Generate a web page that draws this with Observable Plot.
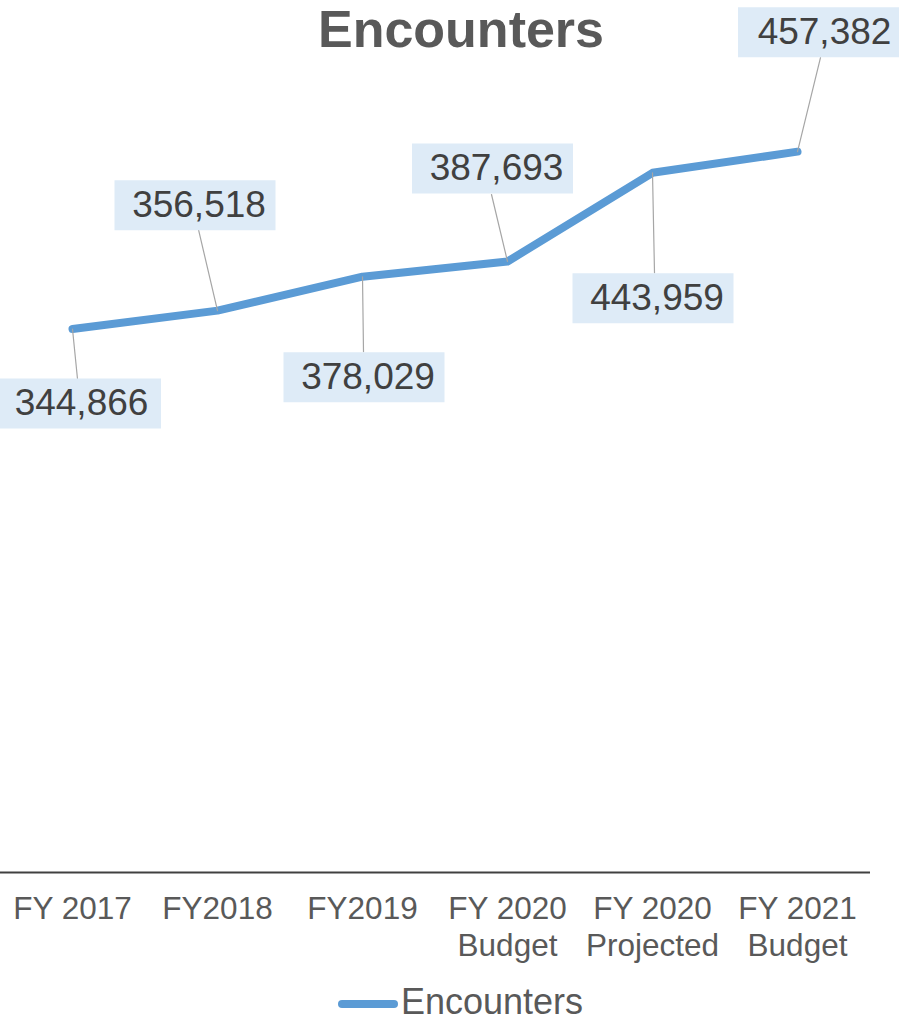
<!DOCTYPE html>
<html>
<head>
<meta charset="utf-8">
<script src="https://cdn.jsdelivr.net/npm/d3@7"></script>
<script src="https://cdn.jsdelivr.net/npm/@observablehq/plot@0.6"></script>
<style>
  body { margin: 0; background: #fff; }
  #wrap { position: relative; width: 900px; height: 1023px; overflow: hidden; font-family: "Liberation Sans", Arial, sans-serif; }
  #title { position: absolute; left: 461px; top: 0px; transform: translateX(-50%); font-size: 52px; line-height: 1.12; font-weight: bold; color: #595959; white-space: nowrap; }
  #legend { position: absolute; left: 338px; top: 982px; height: 41px; display: flex; align-items: center; }
  #legend .sw { width: 60px; height: 8px; border-radius: 4px; background: #5b9bd5; margin-right: 3px; margin-top: 3px; }
  #legend .lbl { font-size: 36px; line-height: 1.12; color: #595959; }
  svg { position: absolute; left: 0; top: 0; overflow: visible; }
</style>
</head>
<body>
<div id="wrap">
  <div id="chart"></div>
  <div id="title"></div>
  <div id="legend"><div class="sw"></div><div class="lbl"></div></div>
</div>
<script>
// ---- data ----
const categories = ["FY 2017", "FY2018", "FY2019", "FY 2020\nBudget", "FY 2020\nProjected", "FY 2021\nBudget"];
const encounters = [344866, 356518, 378029, 387693, 443959, 457382];
const seriesName = "Encounters";
const chartTitle = "Encounters";

// ---- label layout (pixel offsets from each point) ----
const labelBoxOffset = [[8, 74.5], [-22.5, -105.5], [1.5, 100.5], [-15, -93], [0.5, 125.5], [21, -119.5]];
const labelTextShift = [1, 4, 4, 4, 4, 6];
const leaderEnd = [[5, 50], [-19, -81], [1, 75], [-16, -67], [2, 100], [23, -94]];

const rows = categories.map((c, i) => ({category: c, value: encounters[i]}));
const fmt = d3.format(",");

const boxSymbol = {
  draw(context) { context.rect(-80.5, -25, 161, 50); }
};
const leaderShape = {
  draw(context, l) { context.moveTo(0, 0); context.lineTo(0, -l); }
};

const labelMarks = rows.flatMap((d, i) => {
  const [bx, by] = labelBoxOffset[i];
  const [ex, ey] = leaderEnd[i];
  const len = Math.hypot(ex, ey);
  const rot = Math.atan2(ex, -ey) * 180 / Math.PI;
  return [
    Plot.vector([d], {x: "category", y: "value", length: len, rotate: rot, anchor: "start",
      shape: leaderShape, stroke: "#a6a6a6", strokeWidth: 1.2}),
    Plot.dot([d], {x: "category", y: "value", dx: bx, dy: by, symbol: boxSymbol, r: 10,
      fill: "#deebf7", stroke: "none"}),
    Plot.text([d], {x: "category", y: "value", dx: bx + labelTextShift[i], dy: by, text: (r) => fmt(r.value),
      fontSize: 37, fill: "#404040", textAnchor: "middle", lineAnchor: "middle"})
  ];
});

const chart = Plot.plot({
  width: 900,
  height: 1023,
  marginTop: 84,
  marginBottom: 151,
  marginLeft: 0,
  marginRight: 30,
  style: {fontFamily: "'Liberation Sans', Arial, sans-serif", background: "transparent", overflow: "visible"},
  x: {type: "point", domain: categories, range: [70, 799], padding: 0},
  y: {domain: [0, 500000], axis: null},
  marks: [
    Plot.ruleY([0], {stroke: "#404040", strokeWidth: 2}),
    Plot.axisX({tickSize: 0, tickPadding: 20, fontSize: 31.5, fill: "#595959", lineHeight: 1.18, label: null}),
    Plot.line(rows, {x: "category", y: "value", stroke: "#5b9bd5", strokeWidth: 8,
      strokeLinecap: "round", strokeLinejoin: "round"}),
    ...labelMarks
  ]
});

document.getElementById("chart").appendChild(chart);
document.getElementById("title").textContent = chartTitle;
document.querySelector("#legend .lbl").textContent = seriesName;
</script>
</body>
</html>
